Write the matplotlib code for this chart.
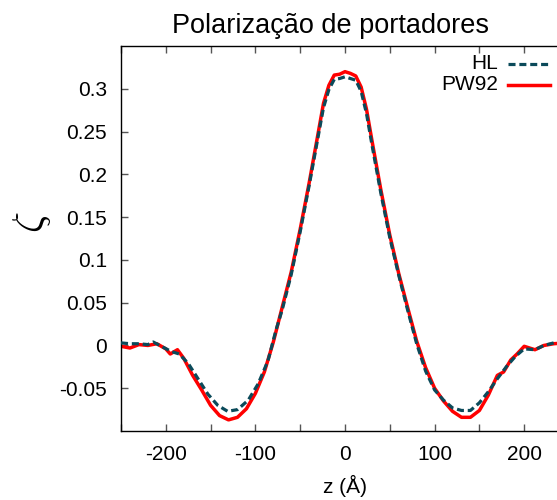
import matplotlib
matplotlib.use("Agg")
import matplotlib.pyplot as plt
from matplotlib.lines import Line2D

plt.rcParams['font.family'] = ['Liberation Sans', 'DejaVu Sans']
plt.rcParams['mathtext.fontset'] = 'cm'

# spin polarization profile zeta(z), two correlation functionals
z_pw92 = [-250, -240, -230, -220, -210, -200, -195, -187, -180, -170, -160,
          -150, -140, -130, -120, -110, -100, -90, -80, -70, -60, -50, -40,
          -30, -24, -18, -12, -6, 0, 6, 12, 18, 24, 30, 40, 50, 60, 70, 80,
          90, 100, 110, 120, 130, 140, 150, 160, 170, 177, 185, 192, 200, 212,
          222, 233, 245]
zeta_pw92 = [-0.001, -0.003, 0.001, 0.000, 0.002, -0.004, -0.010, -0.005,
             -0.015, -0.035, -0.052, -0.070, -0.082, -0.087, -0.084, -0.074,
             -0.056, -0.031, 0.004, 0.045, 0.086, 0.136, 0.190, 0.248, 0.283,
             0.304, 0.316, 0.317, 0.320, 0.318, 0.315, 0.302, 0.276, 0.240,
             0.182, 0.129, 0.084, 0.044, 0.005, -0.026, -0.050, -0.065,
             -0.077, -0.084, -0.084, -0.076, -0.058, -0.035, -0.031, -0.017,
             -0.010, -0.001, -0.005, 0.000, 0.002, 0.003]

z_hl = [-250, -240, -230, -220, -214, -205, -194, -185, -175, -164, -153,
        -142, -131, -120, -108, -97, -86, -77, -70, -60, -50, -40, -30, -24,
        -18, -12, -6, 0, 6, 12, 18, 24, 30, 40, 50, 60, 70, 80, 90, 100, 110,
        120, 130, 140, 150, 160, 170, 180, 190, 200, 212, 222, 233, 245]
zeta_hl = [0.003, 0.002, 0.002, 0.001, 0.004, -0.001, -0.007, -0.010, -0.021,
           -0.039, -0.057, -0.070, -0.077, -0.075, -0.064, -0.045, -0.018,
           0.018, 0.042, 0.083, 0.133, 0.187, 0.244, 0.278, 0.299, 0.311,
           0.312, 0.314, 0.312, 0.310, 0.297, 0.271, 0.235, 0.178, 0.126,
           0.082, 0.041, 0.002, -0.030, -0.052, -0.064, -0.073, -0.076,
           -0.076, -0.067, -0.054, -0.039, -0.025, -0.013, -0.004, -0.005,
           0.000, 0.003, 0.004]

xticks = [-250, -200, -150, -100, -50, 0, 50, 100, 150, 200, 250]
xticklabels = ['', '-200', '', '-100', '', '0', '', '100', '', '200', '']
yticks = [-0.05, 0, 0.05, 0.1, 0.15, 0.2, 0.25, 0.3]
yticklabels = ['-0.05', '0', '0.05', '0.1', '0.15', '0.2', '0.25', '0.3']

W, H = 557, 500
fs = 15
fig = plt.figure(figsize=(W / 100, H / 100), dpi=100)
ax = fig.add_axes([121 / W, 69 / H, 448 / W, 385 / H])

red = '#ff0000'
teal = '#0b4a5a'
ax.plot(z_pw92, zeta_pw92, color=red, lw=2.5, zorder=2)
ax.plot(z_hl, zeta_hl, color=teal, lw=2.3, dashes=(2.2, 1.2), zorder=3)

ax.set_xlim(-250, 250)
ax.set_ylim(-0.1, 0.35)
ax.set_xticks(xticks)
ax.set_xticklabels(xticklabels)
ax.set_yticks(yticks)
ax.set_yticklabels(yticklabels)
ax.tick_params(direction='in', length=5, width=1, color='#555555',
               labelsize=fs, top=True, right=True)
ax.tick_params(axis='x', pad=10)
ax.tick_params(axis='y', pad=10)
for s in ax.spines.values():
    s.set_linewidth(1)

ax.set_xlabel('z (Å)', fontsize=fs, labelpad=8)
fig.text(32 / W, 1 - 222 / H, r'$\zeta$', fontsize=30, rotation=90,
         ha='center', va='center')
fig.text(330 / W, 1 - 33 / H, 'Polarização de portadores', fontsize=19.5,
         ha='center', va='baseline')

# key: right-aligned labels with line samples after them
for i, (label, col, kw) in enumerate([
        ('HL', teal, dict(lw=2.3, dashes=(2.2, 1.2))),
        ('PW92', red, dict(lw=2.5))]):
    yk = 1 - (63.5 + 21.5 * i) / H
    fig.text(498 / W, yk, label, fontsize=fs, ha='right', va='center')
    fig.add_artist(Line2D([508 / W, 550 / W], [yk, yk], color=col, **kw))

fig.savefig('out.png', dpi=100)
